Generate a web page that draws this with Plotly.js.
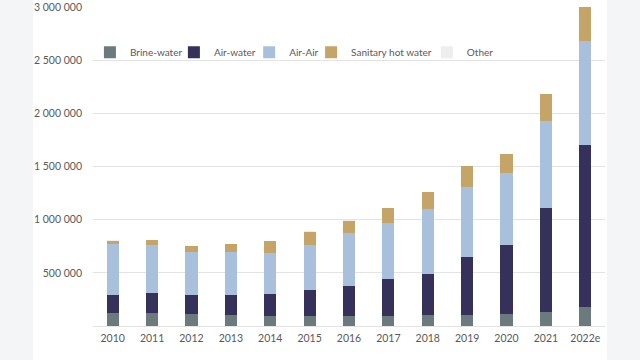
<!DOCTYPE html>
<html>
<head>
<meta charset="utf-8">
<script src="https://cdn.plot.ly/plotly-3.0.1.min.js"></script>
<style>
  html, body { margin: 0; padding: 0; background: #f4f5f7; width: 640px; height: 360px; overflow: hidden; }
  #chart { position: absolute; left: 33px; top: 0; width: 574px; height: 360px; background: #ffffff; }
</style>
</head>
<body>
<div id="chart"></div>
<script>
// Heat pump sales by technology, 2010–2022 (2022 estimated)
const years = ['2010', '2011', '2012', '2013', '2014', '2015', '2016', '2017', '2018', '2019', '2020', '2021', '2022e'];

const brineWater   = [124000, 124000, 111000, 105000,  96000,  91000,  91000,  97000, 103000, 107000, 113000, 129000, 178000];
const airWater     = [169000, 187000, 178000, 188000, 209000, 247000, 281000, 341000, 388000, 540000, 651000, 982000, 1522000];
const airAir       = [478000, 447000, 407000, 399000, 382000, 428000, 498000, 535000, 613000, 663000, 671000, 818000, 985000];
const sanitaryHot  = [ 31000,  50000,  56000,  79000, 108000, 122000, 121000, 138000, 157000, 194000, 182000, 252000, 315000];
const other        = [  4000,   4000,   3000,   3000,   3000,   3000,   3000,   3000,   3000,   3000,   3000,   3000,   3000];

const yTicks = [0, 500000, 1000000, 1500000, 2000000, 2500000, 3000000];
const yTickText = ['', '500 000', '1 000 000', '1 500 000', '2 000 000', '2 500 000', '3 000 000'];

// one legend per series so the keys can sit closer together along the top row
const series = [
  { name: 'Brine-water',        y: brineWater,  color: '#6b7b7d', legend: 'legend',  lx: -0.006 },
  { name: 'Air-water',          y: airWater,    color: '#35315a', legend: 'legend2', lx: 0.158 },
  { name: 'Air-Air',            y: airAir,      color: '#a8c0dc', legend: 'legend3', lx: 0.305 },
  { name: 'Sanitary hot water', y: sanitaryHot, color: '#c4a467', legend: 'legend4', lx: 0.426 },
  { name: 'Other',              y: other,       color: '#eeeeee', legend: 'legend5', lx: 0.652 }
];

const traces = series.map(s => ({
  type: 'bar',
  name: s.name,
  x: years,
  y: s.y,
  legend: s.legend,
  marker: { color: s.color, line: { width: 0 } },
  hoverinfo: 'x+y+name'
}));

const font = { family: 'Lato, "Open Sans", sans-serif', size: 10, color: '#595959' };

const layout = {
  width: 574,
  height: 360,
  margin: { l: 60, r: 2, t: 7, b: 34 },
  paper_bgcolor: '#ffffff',
  plot_bgcolor: '#ffffff',
  barmode: 'stack',
  bargap: 0.69,
  font: font,
  showlegend: true,
  xaxis: {
    type: 'category',
    showgrid: false,
    zeroline: false,
    showline: false,
    ticks: '',
    tickfont: { family: font.family, size: 10.5, color: '#595959' },
    ticklabelstandoff: 4
  },
  yaxis: {
    range: [0, 3000000],
    tickvals: yTicks,
    ticktext: yTickText,
    showgrid: true,
    gridcolor: '#e3e3e3',
    gridwidth: 1,
    zeroline: true,
    zerolinecolor: '#e3e3e3',
    zerolinewidth: 1,
    showline: false,
    ticks: '',
    tickfont: { family: font.family, size: 10.5, color: '#595959' },
    ticklabelstandoff: 10
  }
};

series.forEach(s => {
  layout[s.legend] = {
    orientation: 'h',
    x: s.lx,
    xanchor: 'left',
    y: 0.858,
    yanchor: 'middle',
    font: { family: font.family, size: 10, color: '#595959' },
    itemwidth: 30,
    bgcolor: 'rgba(0,0,0,0)'
  };
});

Plotly.newPlot('chart', traces, layout, { displayModeBar: false, staticPlot: true });
</script>
</body>
</html>
